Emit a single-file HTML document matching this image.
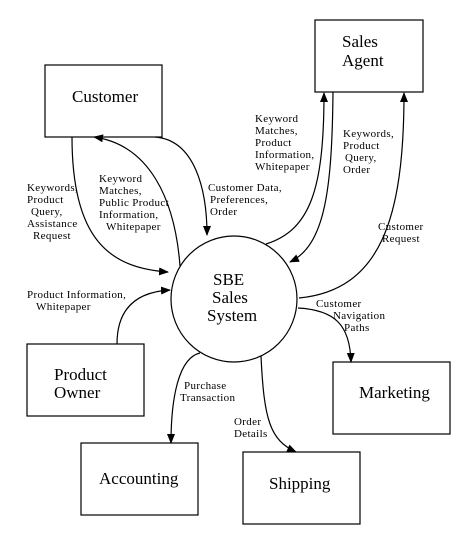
<!DOCTYPE html>
<html><head><style>
html,body{margin:0;padding:0;background:#fff;}
svg{display:block;}
text{font-family:"Liberation Serif",serif;fill:#000;}
.s{font-size:11px;letter-spacing:0.35px;}
.b{font-size:17px;}
</style></head><body>
<svg width="475" height="546" viewBox="0 0 475 546" xmlns="http://www.w3.org/2000/svg">
<defs>
<marker id="a" markerWidth="10" markerHeight="8" refX="9" refY="4" orient="auto" markerUnits="userSpaceOnUse">
<path d="M0,0 L10,4 L0,8 z" fill="#000"/></marker>
</defs>
<g fill="none" stroke="#000" stroke-width="1.2">
<rect x="45" y="65" width="117" height="72"/>
<rect x="315" y="20" width="108" height="72"/>
<rect x="27" y="344" width="117" height="72"/>
<rect x="81" y="443" width="117" height="72"/>
<rect x="243" y="452" width="117" height="72"/>
<rect x="333" y="362" width="117" height="72"/>
<circle cx="234" cy="299" r="63"/>
<path d="M72,137 C72,240 110,268 168,272" marker-end="url(#a)"/>
<path d="M180,266 C175,200 150,145 94,137" marker-end="url(#a)"/>
<path d="M155,137 C195,140 207,190 207,235" marker-end="url(#a)"/>
<path d="M266,244 C310,230 324,190 324,93" marker-end="url(#a)"/>
<path d="M333,92 C332,190 325,245 290,262" marker-end="url(#a)"/>
<path d="M299,298 C380,290 404,220 404,93" marker-end="url(#a)"/>
<path d="M117,344 C117,310 135,292 170,290" marker-end="url(#a)"/>
<path d="M298,308 C335,310 350,325 351,362" marker-end="url(#a)"/>
<path d="M200,353 C178,358 171,400 171,443" marker-end="url(#a)"/>
<path d="M261,356 C264,420 270,440 296,452" marker-end="url(#a)"/>
</g>
<text class="b" x="72" y="102">Customer</text>
<text class="b" x="342" y="47">Sales</text>
<text class="b" x="342" y="66">Agent</text>
<text class="b" x="54" y="380">Product</text>
<text class="b" x="54" y="398">Owner</text>
<text class="b" x="99" y="484">Accounting</text>
<text class="b" x="269" y="489">Shipping</text>
<text class="b" x="359" y="398">Marketing</text>
<text class="b" x="213" y="285">SBE</text>
<text class="b" x="212" y="303">Sales</text>
<text class="b" x="207" y="321">System</text>
<text class="s" x="27" y="191">Keywords,</text>
<text class="s" x="27" y="203">Product</text>
<text class="s" x="31" y="215">Query,</text>
<text class="s" x="27" y="227">Assistance</text>
<text class="s" x="33" y="239">Request</text>
<text class="s" x="99" y="182">Keyword</text>
<text class="s" x="99" y="194">Matches,</text>
<text class="s" x="99" y="206">Public Product</text>
<text class="s" x="99" y="218">Information,</text>
<text class="s" x="106" y="230">Whitepaper</text>
<text class="s" x="208" y="191">Customer Data,</text>
<text class="s" x="210" y="203">Preferences,</text>
<text class="s" x="210" y="215">Order</text>
<text class="s" x="255" y="122">Keyword</text>
<text class="s" x="255" y="134">Matches,</text>
<text class="s" x="255" y="146">Product</text>
<text class="s" x="255" y="158">Information,</text>
<text class="s" x="255" y="170">Whitepaper</text>
<text class="s" x="343" y="137">Keywords,</text>
<text class="s" x="343" y="149">Product</text>
<text class="s" x="345" y="161">Query,</text>
<text class="s" x="343" y="173">Order</text>
<text class="s" x="378" y="230">Customer</text>
<text class="s" x="382" y="242">Request</text>
<text class="s" x="27" y="298">Product Information,</text>
<text class="s" x="36" y="310">Whitepaper</text>
<text class="s" x="316" y="307">Customer</text>
<text class="s" x="333" y="319">Navigation</text>
<text class="s" x="344" y="331">Paths</text>
<text class="s" x="184" y="389">Purchase</text>
<text class="s" x="180" y="401">Transaction</text>
<text class="s" x="234" y="425">Order</text>
<text class="s" x="234" y="437">Details</text>
</svg>
</body></html>
